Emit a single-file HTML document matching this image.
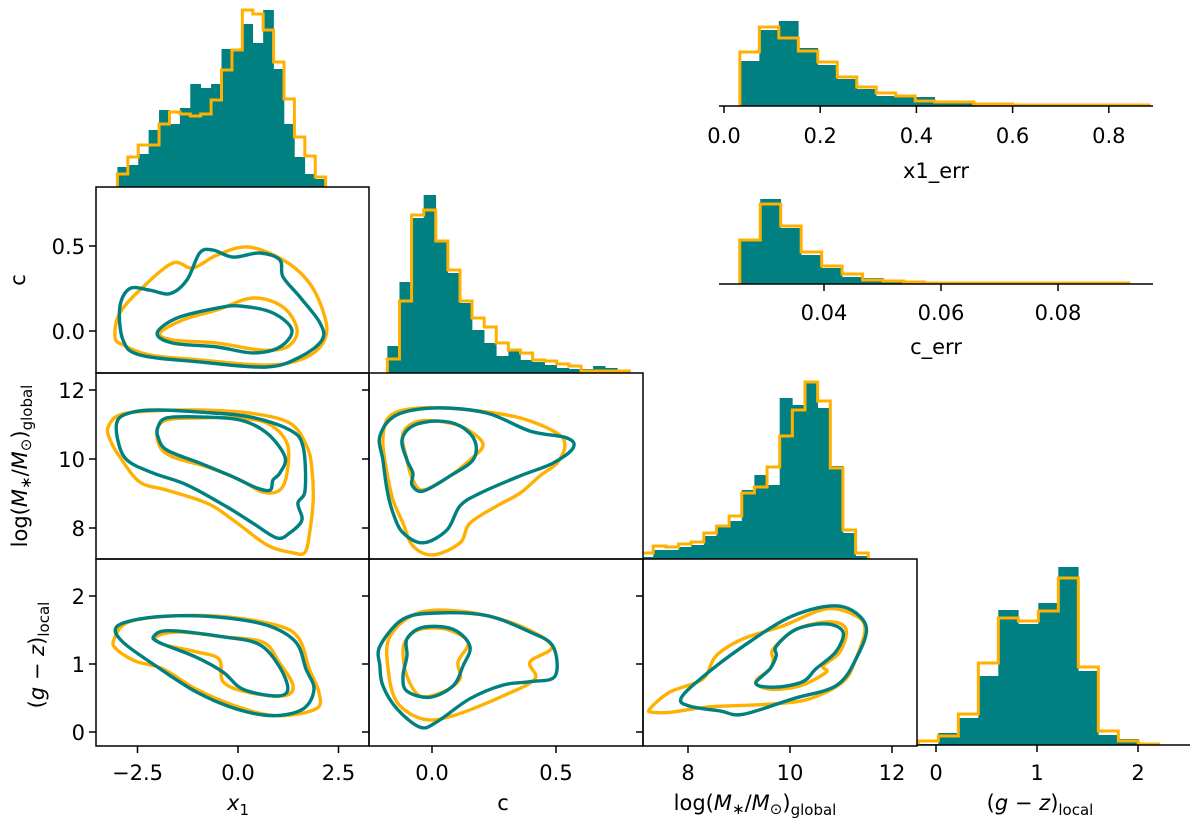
<!DOCTYPE html>
<html><head><meta charset="utf-8">
<style>
html,body{margin:0;padding:0;background:#fff;}
svg{display:block;font-family:"DejaVu Sans","Liberation Sans",sans-serif;}
</style></head>
<body>
<svg id="chart" width="1200" height="824" viewBox="0 0 1200 824" xmlns="http://www.w3.org/2000/svg"></svg>
<script>
// ---------- data ----------
const x1Edges0 = -3.0, x1BinW = 0.259;
const x1HistTeal = [20,22,33,57,77,63,79,103,99,103,138,137,163,144,177,118,63,30,13,8];
const x1HistOrange = [13,30,42,42,63,75,73,71,73,87,117,137,177,173,157,125,88,50,31,10];
const cEdges0 = -0.18, cBinW = 0.0488;
const cHistTeal = [27,91,155,178,133,100,70,43,30,17,23,13,11,8,5,4,4,7,5,2];
const cHistOrange = [14,72,158,163,132,103,72,55,46,30,23,20,13,12,9,7,2,2,2,2];
const mEdges0 = 7.07, mBinW = 0.248;
const mHistTeal = [2,9,9,12,14,23,33,38,69,84,74,161,154,178,151,93,26,3];
const mHistOrange = [6,13,12,15,17,26,33,43,66,72,92,123,149,177,158,91,29,6];
const gEdges0 = -0.175, gBinW = 0.198;
const gHistTeal = [1,12,27,69,135,121,142,178,74,10,6,1];
const gHistOrange = [4,9,31,82,127,124,134,167,78,14,4,1];
const x1eEdges0 = 0.033, x1eBinW = 0.0405;
const x1eHistTeal = [45,76,85,58,41,27,17,10,9,9,4,3,2,1,1,2,1,1,1,0,0];
const x1eHistOrange = [54,79,68,55,44,29,19,13,10,5,4,4,2,2,1,1,1,1,1,1,1];
const ceEdges0 = 0.0256, ceBinW = 0.0035;
const ceHistTeal = [43,85,56,29,16,7,6,2,1,1,1,1,1,1,1,1,1,1,1];
const ceHistOrange = [44,80,58,32,18,10,4,3,2,1,1,1,1,1,1,1,1,1,1];

const x1TickVals = [-2.5,0,2.5], x1TickLabels = ["−2.5","0.0","2.5"];
const cTickVals = [0,0.5], cTickLabels = ["0.0","0.5"];
const mTickVals = [8,10,12], mTickLabels = ["8","10","12"];
const gTickVals = [0,1,2], gTickLabels = ["0","1","2"];
const x1eTickVals = [0,0.2,0.4,0.6,0.8], x1eTickLabels = ["0.0","0.2","0.4","0.6","0.8"];
const ceTickVals = [0.04,0.06,0.08], ceTickLabels = ["0.04","0.06","0.08"];

// contours: x1-c
const xcOrOutX=[-3.06,-2.94,-2.36,-1.62,-1.12,-0.52,0.25,1.12,1.72,2.04,2.21,1.97,1.37,0.55,-0.95,-2.19,-2.86];
const xcOrOutY=[-0.035,0.106,0.259,0.4,0.371,0.447,0.494,0.418,0.3,0.165,0.006,-0.112,-0.182,-0.2,-0.17,-0.141,-0.082];
const xcTeOutX=[-2.94,-2.69,-2.19,-1.69,-1.27,-0.95,-0.62,-0.12,0.55,1.04,1.12,1.54,2.04,2.09,1.54,0.72,-0.95,-2.44,-2.86];
const xcTeOutY=[0.14,0.25,0.24,0.22,0.3,0.46,0.476,0.435,0.459,0.418,0.318,0.2,0.047,-0.053,-0.153,-0.212,-0.182,-0.141,-0.053];
const xcOrInX=[-1.94,-1.37,-0.52,0.37,1.12,1.47,1.22,0.55,-0.52,-1.62];
const xcOrInY=[-0.012,0.065,0.124,0.194,0.141,0.006,-0.094,-0.112,-0.071,-0.053];
const xcTeInX=[-2.01,-1.52,-0.52,0.05,0.87,1.34,1.04,0.37,-0.52,-1.62];
const xcTeInY=[-0.012,0.076,0.135,0.147,0.106,0.006,-0.094,-0.129,-0.094,-0.071];
// x1-logM
const xmOrOutX=[-3.23,-2.94,-2.19,-0.95,0.3,1.29,1.72,1.84,1.87,1.79,1.67,1.37,0.72,-0.12,-0.77,-1.77,-2.44,-2.94,-3.18];
const xmOrOutY=[10.93,11.28,11.39,11.42,11.33,11.04,10.35,9.68,8.81,7.94,7.3,7.28,7.51,8.23,8.72,9.1,9.33,10.06,10.55];
const xmTeOutX=[-2.99,-2.61,-2.01,-0.95,0.3,1.29,1.62,1.67,1.49,1.59,1.29,0.97,0.37,-0.27,-1.27,-2.11,-2.76,-2.99];
const xmTeOutY=[11.13,11.36,11.42,11.36,11.22,10.84,10.35,9.1,8.72,8.23,7.86,7.71,8.14,8.61,9.25,9.59,9.97,10.55];
const xmOrInX=[-2.01,-1.77,-0.95,-0.12,0.72,1.22,1.22,1.04,0.62,0.05,-0.77,-1.62,-1.94];
const xmOrInY=[10.84,11.13,11.19,11.19,11.04,10.46,9.59,9.1,9.04,9.39,9.77,10.06,10.35];
const xmTeInX=[-1.99,-1.77,-0.95,0.05,0.72,1.17,1.04,0.87,0.8,0.47,-0.12,-0.95,-1.77,-1.99];
const xmTeInY=[10.93,11.19,11.22,11.13,10.75,10.06,9.59,9.39,9.1,9.16,9.48,9.88,10.26,10.64];
// c-logM
const cmOrOutX=[-0.169,-0.048,0.153,0.355,0.504,0.536,0.504,0.435,0.355,0.262,0.153,0.113,0.004,-0.077,-0.117,-0.157,-0.181,-0.198];
const cmOrOutY=[11.25,11.48,11.42,11.19,10.75,10.38,9.88,9.51,9.01,8.64,8.14,7.57,7.22,7.48,8.14,8.81,9.59,10.55];
const cmTeOutX=[-0.21,-0.141,0.02,0.222,0.395,0.544,0.569,0.488,0.355,0.194,0.113,0.06,-0.036,-0.117,-0.157,-0.181,-0.198];
const cmTeOutY=[10.67,11.28,11.48,11.33,10.81,10.61,10.32,9.88,9.51,9.01,8.64,7.94,7.57,7.86,8.43,9.1,9.97];
const cmOrInX=[-0.117,-0.048,0.073,0.153,0.206,0.153,0.06,-0.036,-0.077,-0.101];
const cmOrInY=[10.75,11.1,11.04,10.81,10.41,9.97,9.45,9.1,9.39,9.97];
const cmTeInX=[-0.121,-0.077,0.02,0.113,0.173,0.165,0.073,-0.036,-0.081,-0.077,-0.101];
const cmTeInY=[10.55,10.96,11.1,10.96,10.52,9.97,9.51,9.07,9.25,9.59,9.97];
// x1-gz
const xgOrOutX=[-3.08,-2.71,-1.47,-0.22,1.02,1.52,1.77,2.01,1.94,0.95,-0.05,-1.04,-1.87,-2.54,-3.03];
const xgOrOutY=[1.37,1.62,1.71,1.69,1.56,1.37,0.93,0.59,0.34,0.24,0.38,0.63,0.93,1.04,1.22];
const xgTeOutX=[-3.03,-2.46,-1.47,-0.3,0.77,1.44,1.69,1.89,1.62,0.87,-0.05,-1.04,-2.04,-2.86];
const xgTeOutY=[1.54,1.66,1.71,1.68,1.56,1.32,0.93,0.63,0.34,0.24,0.34,0.59,0.97,1.32];
const xgOrInX=[-2.04,-1.47,-0.37,0.62,1.02,1.37,1.12,0.2,-0.37,-0.47,-1.04,-1.87];
const xgOrInY=[1.4,1.47,1.4,1.32,1.03,0.68,0.53,0.59,0.74,1.07,1.18,1.29];
const xgTeInX=[-2.09,-1.72,-0.37,0.52,1.02,1.24,0.95,0.12,-0.37,-1.04,-1.97];
const xgTeInY=[1.41,1.49,1.4,1.29,0.97,0.63,0.53,0.63,0.88,1.1,1.32];
// c-gz
const cgOrOutX=[-0.169,-0.048,0.153,0.355,0.484,0.395,0.415,0.286,0.085,-0.036,-0.141,-0.177];
const cgOrOutY=[1.41,1.76,1.76,1.56,1.26,1.03,0.78,0.53,0.24,0.19,0.44,0.93];
const cgTeOutX=[-0.21,-0.117,0.02,0.222,0.395,0.488,0.496,0.395,0.286,0.153,0.02,-0.048,-0.141,-0.198,-0.21];
const cgTeOutY=[1.26,1.66,1.75,1.71,1.47,1.26,0.82,0.74,0.69,0.49,0.15,0.07,0.34,0.68,0.97];
const cgOrInX=[-0.101,-0.048,0.06,0.145,0.105,0.113,0.044,-0.048,-0.101,-0.117];
const cgOrInY=[1.37,1.51,1.51,1.32,1.03,0.78,0.59,0.53,0.82,1.18];
const cgTeInX=[-0.101,-0.036,0.085,0.153,0.125,0.085,-0.008,-0.101,-0.117,-0.101];
const cgTeInY=[1.37,1.54,1.51,1.26,0.97,0.68,0.51,0.6,0.82,1.12];
// logM-gz
const mgOrOutX=[7.25,7.65,8.29,8.55,9.08,9.86,10.71,11.29,11.47,11.29,11.04,10.39,9.61,8.43,7.65,7.31];
const mgOrOutY=[0.34,0.59,0.78,1.12,1.37,1.56,1.81,1.71,1.51,1.07,0.74,0.49,0.41,0.37,0.29,0.29];
const mgTeOutX=[7.86,8.24,9.08,10.06,10.98,11.49,11.29,10.9,10.06,9.08,8.63,8.04];
const mgTeOutY=[0.49,0.78,1.26,1.71,1.85,1.56,1.07,0.68,0.49,0.26,0.31,0.38];
const mgOrInX=[9.67,10.12,10.78,11.1,10.98,10.65,10.71,10.2,9.61,9.33,9.61,9.67];
const mgOrInY=[1.22,1.51,1.62,1.51,1.18,0.97,0.88,0.68,0.63,0.74,0.93,1.07];
const mgTeInX=[9.73,10.12,10.71,11.04,10.9,10.51,10.25,9.73,9.33,9.61,9.73];
const mgTeInY=[1.26,1.51,1.59,1.47,1.18,0.93,0.74,0.66,0.71,0.93,1.12];

// ---------- scales ----------
const TEAL="#008080", ORANGE="#FFB000";
const sx1 = v => 238 + v*40.2;
const sc  = v => 432 + v*248;
const sm  = v => 790 + (v-10)*51;
const sg  = v => 936 + v*101;
const syc = v => 331 - v*170;
const sym = v => 459 - (v-10)*34.5;
const syg = v => 732 - v*68;
const sx1e = v => 724 + v*481;
const sce = v => 824 + (v-0.04)*5850;

const svg = document.getElementById('chart');
const NS = "http://www.w3.org/2000/svg";
function mk(tag, attrs, parent){
  const e = document.createElementNS(NS, tag);
  for (const k in attrs) e.setAttribute(k, attrs[k]);
  (parent||svg).appendChild(e);
  return e;
}
const defs = mk('defs',{});
function clip(id,x,y,w,h){ const c=mk('clipPath',{id:id},defs); mk('rect',{x:x,y:y,width:w,height:h},c); }
clip('cl-row0',96,0,273,187);
clip('cl-row1col2',369,0,274,373);
clip('cl-row2col3',643,300,274,259);
clip('cl-xc',96,187,273,186);
clip('cl-xm',96,373,273,186);
clip('cl-cm',369,373,274,186);
clip('cl-xg',96,559,273,187);
clip('cl-cg',369,559,274,187);
clip('cl-mg',643,559,274,187);

function hist(name, edge0, w, counts, sx, base, color, filled, clipId){
  const g = mk('g',{'clip-path':'url(#'+clipId+')'});
  
  
  if (filled){
    counts.forEach((c,i)=>{
      const xa = sx(edge0+i*w), xb = sx(edge0+(i+1)*w);
      const r = mk('rect',{x:xa,y:base-c,width:xb-xa+0.3,height:c,fill:color},g);
      
      
    });
  } else {
    let d = 'M'+sx(edge0)+','+base;
    counts.forEach((c,i)=>{
      d += ' L'+sx(edge0+i*w)+','+(base-c)+' L'+sx(edge0+(i+1)*w)+','+(base-c);
    });
    d += ' L'+sx(edge0+counts.length*w)+','+base;
    const p = mk('path',{d:d,fill:'none',stroke:color,'stroke-width':3,'stroke-linejoin':'miter'},g);
    
    
  }
}
function contour(name, xs, ys, sx, sy, color, clipId){
  const P = xs.map((x,i)=>[sx(x), sy(ys[i])]);
  const n = P.length;
  let d = 'M'+P[0][0].toFixed(1)+','+P[0][1].toFixed(1);
  for (let i=0;i<n;i++){
    const p0=P[(i-1+n)%n], p1=P[i], p2=P[(i+1)%n], p3=P[(i+2)%n];
    const c1=[p1[0]+(p2[0]-p0[0])/6, p1[1]+(p2[1]-p0[1])/6];
    const c2=[p2[0]-(p3[0]-p1[0])/6, p2[1]-(p3[1]-p1[1])/6];
    d+=' C'+c1[0].toFixed(1)+','+c1[1].toFixed(1)+' '+c2[0].toFixed(1)+','+c2[1].toFixed(1)+' '+p2[0].toFixed(1)+','+p2[1].toFixed(1);
  }
  d+='Z';
  const p = mk('path',{d:d,fill:'none',stroke:color,'stroke-width':3.4,'clip-path':'url(#'+clipId+')'});
  
  
}
function text(name, x, y, str, attrs){
  const t = mk('text', Object.assign({x:x,y:y,'font-size':21,fill:'#000'}, attrs||{}));
  t.textContent = str;
  
  
  return t;
}

// ---------- histograms ----------
hist('x1-hist-teal', x1Edges0, x1BinW, x1HistTeal, sx1, 187, TEAL, true, 'cl-row0');
hist('x1-hist-orange', x1Edges0, x1BinW, x1HistOrange, sx1, 187, ORANGE, false, 'cl-row0');
hist('c-hist-teal', cEdges0, cBinW, cHistTeal, sc, 373, TEAL, true, 'cl-row1col2');
hist('c-hist-orange', cEdges0, cBinW, cHistOrange, sc, 373, ORANGE, false, 'cl-row1col2');
hist('logm-hist-teal', mEdges0, mBinW, mHistTeal, sm, 559, TEAL, true, 'cl-row2col3');
hist('logm-hist-orange', mEdges0, mBinW, mHistOrange, sm, 559, ORANGE, false, 'cl-row2col3');
clip('cl-g',917,500,273,246);
hist('gz-hist-teal', gEdges0, gBinW, gHistTeal, sg, 745, TEAL, true, 'cl-g');
hist('gz-hist-orange', gEdges0, gBinW, gHistOrange, sg, 745, ORANGE, false, 'cl-g');
clip('cl-x1e',719,0,440,108);
clip('cl-ce',719,190,440,95);
hist('x1err-hist-teal', x1eEdges0, x1eBinW, x1eHistTeal, sx1e, 106, TEAL, true, 'cl-x1e');
hist('x1err-hist-orange', x1eEdges0, x1eBinW, x1eHistOrange, sx1e, 106, ORANGE, false, 'cl-x1e');
hist('cerr-hist-teal', ceEdges0, ceBinW, ceHistTeal, sce, 284, TEAL, true, 'cl-ce');
hist('cerr-hist-orange', ceEdges0, ceBinW, ceHistOrange, sce, 284, ORANGE, false, 'cl-ce');

// ---------- contours ----------
contour('x1-c-orange-outer', xcOrOutX, xcOrOutY, sx1, syc, ORANGE, 'cl-xc');
contour('x1-c-orange-inner', xcOrInX, xcOrInY, sx1, syc, ORANGE, 'cl-xc');
contour('x1-c-teal-outer', xcTeOutX, xcTeOutY, sx1, syc, TEAL, 'cl-xc');
contour('x1-c-teal-inner', xcTeInX, xcTeInY, sx1, syc, TEAL, 'cl-xc');
contour('x1-logm-orange-outer', xmOrOutX, xmOrOutY, sx1, sym, ORANGE, 'cl-xm');
contour('x1-logm-orange-inner', xmOrInX, xmOrInY, sx1, sym, ORANGE, 'cl-xm');
contour('x1-logm-teal-outer', xmTeOutX, xmTeOutY, sx1, sym, TEAL, 'cl-xm');
contour('x1-logm-teal-inner', xmTeInX, xmTeInY, sx1, sym, TEAL, 'cl-xm');
contour('c-logm-orange-outer', cmOrOutX, cmOrOutY, sc, sym, ORANGE, 'cl-cm');
contour('c-logm-orange-inner', cmOrInX, cmOrInY, sc, sym, ORANGE, 'cl-cm');
contour('c-logm-teal-outer', cmTeOutX, cmTeOutY, sc, sym, TEAL, 'cl-cm');
contour('c-logm-teal-inner', cmTeInX, cmTeInY, sc, sym, TEAL, 'cl-cm');
contour('x1-gz-orange-outer', xgOrOutX, xgOrOutY, sx1, syg, ORANGE, 'cl-xg');
contour('x1-gz-orange-inner', xgOrInX, xgOrInY, sx1, syg, ORANGE, 'cl-xg');
contour('x1-gz-teal-outer', xgTeOutX, xgTeOutY, sx1, syg, TEAL, 'cl-xg');
contour('x1-gz-teal-inner', xgTeInX, xgTeInY, sx1, syg, TEAL, 'cl-xg');
contour('c-gz-orange-outer', cgOrOutX, cgOrOutY, sc, syg, ORANGE, 'cl-cg');
contour('c-gz-orange-inner', cgOrInX, cgOrInY, sc, syg, ORANGE, 'cl-cg');
contour('c-gz-teal-outer', cgTeOutX, cgTeOutY, sc, syg, TEAL, 'cl-cg');
contour('c-gz-teal-inner', cgTeInX, cgTeInY, sc, syg, TEAL, 'cl-cg');
contour('logm-gz-orange-outer', mgOrOutX, mgOrOutY, sm, syg, ORANGE, 'cl-mg');
contour('logm-gz-orange-inner', mgOrInX, mgOrInY, sm, syg, ORANGE, 'cl-mg');
contour('logm-gz-teal-outer', mgTeOutX, mgTeOutY, sm, syg, TEAL, 'cl-mg');
contour('logm-gz-teal-inner', mgTeInX, mgTeInY, sm, syg, TEAL, 'cl-mg');

// ---------- frames ----------
const frames = [
  ['panel-x1-c',96,187,273,186],['panel-x1-logm',96,373,273,186],['panel-c-logm',369,373,274,186],
  ['panel-x1-gz',96,559,273,187],['panel-c-gz',369,559,274,187],['panel-logm-gz',643,559,274,187]];
frames.forEach(f=>{
  const r = mk('rect',{x:f[1],y:f[2],width:f[3],height:f[4],fill:'none',stroke:'#000','stroke-width':1.5});
  
  
});
[[917,1190,745,'gz-hist-axis'],[719,1153,106,'x1err-axis'],[719,1153,284,'cerr-axis']].forEach(a=>{
  const l = mk('line',{x1:a[0],x2:a[1],y1:a[2],y2:a[2],stroke:'#000','stroke-width':1.5});
  
  
});

// ---------- ticks ----------
function yticks(name, vals, labels, sy, xLeft, withLabels){
  vals.forEach((v,i)=>{
    const y = sy(v);
    const l = mk('line',{x1:xLeft-7,x2:xLeft,y1:y,y2:y,stroke:'#000','stroke-width':1.5});
    
    
    if (withLabels) text(name+'-label', xLeft-11, y+8, labels[i], {'text-anchor':'end'});
  });
}
function xticks(name, vals, labels, sx, yb, labelY){
  vals.forEach((v,i)=>{
    const x = sx(v);
    const l = mk('line',{x1:x,x2:x,y1:yb,y2:yb+7,stroke:'#000','stroke-width':1.5});
    
    
    text(name+'-label', x, labelY, labels[i], {'text-anchor':'middle'});
  });
}
yticks('c-ytick', cTickVals, cTickLabels, syc, 96, true);
yticks('logm-ytick', mTickVals, mTickLabels, sym, 96, true);
yticks('gz-ytick', gTickVals, gTickLabels, syg, 96, true);
yticks('logm-ytick-c', mTickVals, mTickLabels, sym, 369, false);
yticks('gz-ytick-c', gTickVals, gTickLabels, syg, 369, false);
yticks('gz-ytick-m', gTickVals, gTickLabels, syg, 643, false);
xticks('x1-xtick', x1TickVals, x1TickLabels, sx1, 746, 780);
xticks('c-xtick', cTickVals, cTickLabels, sc, 746, 780);
xticks('logm-xtick', mTickVals, mTickLabels, sm, 746, 780);
xticks('gz-xtick', gTickVals, gTickLabels, sg, 745, 780);
xticks('x1err-xtick', x1eTickVals, x1eTickLabels, sx1e, 106, 143);
xticks('cerr-xtick', ceTickVals, ceTickLabels, sce, 284, 320);

// ---------- axis labels ----------
text('x1err-xlabel', 936, 178, 'x1_err', {'text-anchor':'middle'});
text('cerr-xlabel', 936, 354, 'c_err', {'text-anchor':'middle'});
const xl1 = text('x1-xlabel', 238, 810, '', {'text-anchor':'middle'});
xl1.innerHTML = '<tspan font-style="italic">x</tspan><tspan font-size="15" dy="5">1</tspan>';
text('c-xlabel', 503, 810, 'c', {'text-anchor':'middle'});
const xl3 = text('logm-xlabel', 755, 810, '', {'text-anchor':'middle'});
xl3.innerHTML = 'log(<tspan font-style="italic">M</tspan><tspan font-size="15" dy="4">∗</tspan><tspan dy="-4">/</tspan><tspan font-style="italic">M</tspan><tspan font-size="15" dy="4">⊙</tspan><tspan dy="-4">)</tspan><tspan font-size="15" dy="5">global</tspan>';
const xl4 = text('gz-xlabel', 1040, 810, '', {'text-anchor':'middle'});
xl4.innerHTML = '(<tspan font-style="italic">g</tspan> − <tspan font-style="italic">z</tspan>)<tspan font-size="15" dy="5">local</tspan>';
text('c-ylabel', 0, 0, 'c', {'text-anchor':'middle', transform:'translate(25,280) rotate(-90)'});
const yl2 = text('logm-ylabel', 0, 0, '', {'text-anchor':'middle', transform:'translate(27,466) rotate(-90)'});
yl2.innerHTML = 'log(<tspan font-style="italic">M</tspan><tspan font-size="15" dy="4">∗</tspan><tspan dy="-4">/</tspan><tspan font-style="italic">M</tspan><tspan font-size="15" dy="4">⊙</tspan><tspan dy="-4">)</tspan><tspan font-size="15" dy="5">global</tspan>';
const yl3 = text('gz-ylabel', 0, 0, '', {'text-anchor':'middle', transform:'translate(44,655) rotate(-90)'});
yl3.innerHTML = '(<tspan font-style="italic">g</tspan> − <tspan font-style="italic">z</tspan>)<tspan font-size="15" dy="5">local</tspan>';
</script>
</body></html>
